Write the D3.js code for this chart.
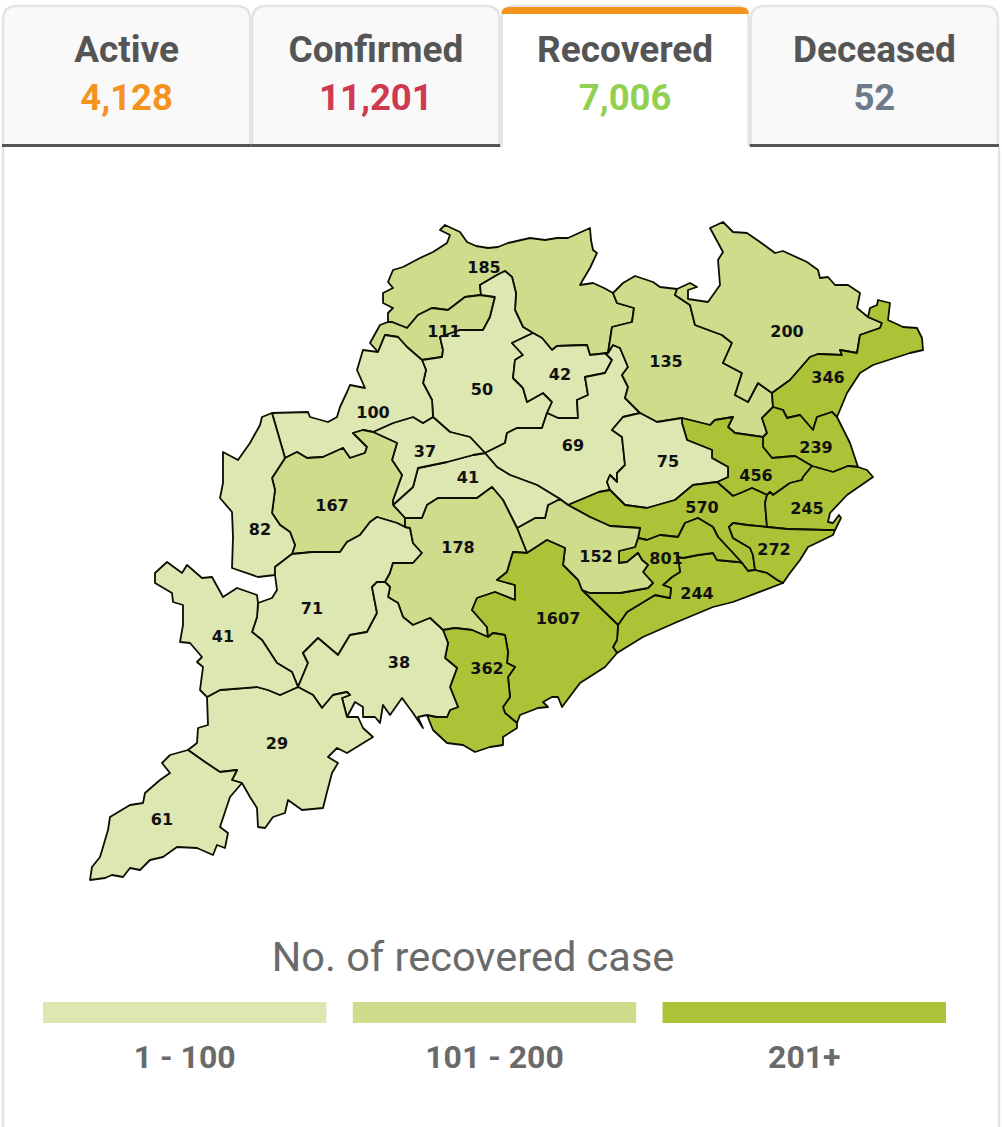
<!DOCTYPE html>
<html><head><meta charset="utf-8">
<style>html,body{margin:0;padding:0;background:#fff}svg{display:block}text{font-family:Roboto,sans-serif}</style>
<script src="https://cdn.jsdelivr.net/npm/d3@7"></script></head><body><svg id="c" width="1002" height="1127"></svg>
<script>
const tabNames=["Active","Confirmed","Recovered","Deceased"];
const tabTotals=["4,128","11,201","7,006","52"];
const tabColors=["#f4931e","#cf3a50","#92d14f","#6c7a89"];
const activeTab="Recovered";
const legendTitle="No. of recovered case";
const legendLabels=["1 - 100","101 - 200","201+"];
const colorBreaks=[101,201];
const colorRange=["#dde7b2","#cedc8b","#adc337"];
const districts=["Sundargarh","Jharsuguda","Sambalpur","Deogarh","Angul","Keonjhar","Mayurbhanj","Balasore","Bhadrak","Jajpur","Dhenkanal","Cuttack","Kendrapara","Jagatsinghpur","Puri","Khordha","Nayagarh","Boudh","Sonepur","Bargarh","Balangir","Nuapada","Kalahandi","Kandhamal","Ganjam","Gajapati","Rayagada","Koraput","Malkangiri","Nabarangpur"];
const recovered=[185,111,50,42,69,135,200,346,239,456,75,570,245,272,244,801,152,41,37,100,167,82,71,178,1607,362,38,29,61,41];
const labelX=[484,444,482,560,573,666,787,828,816,756,668,702,807,774,697,666,596,468,425,373,332,260,312,458,558,487,399,277,162,223];
const labelY=[267,331,389,374,445,361,331,377,447,475,461,507,508,549,593,558,556,477,451,412,505,529,608,547,618,668,662,743,819,636];
// shared district borders, in map units
const arcs={
sunOuter:[[388,322],[388,313],[393,308],[383,303],[383,293],[393,288],[388,282],[393,270],[403,267],[420,258],[433,252],[447,243],[450,235],[440,230],[445,225],[460,232],[467,242],[476,246],[488,248],[498,247],[508,243],[530,238],[545,240],[557,238],[568,238],[590,228],[591,240],[593,250],[597,253],[590,268],[584,278],[580,285],[593,283],[604,288],[613,293]],
sunKeo:[[613,293],[617,303],[634,308],[632,322],[612,327],[608,353]],
sunDeo:[[608,353],[590,355],[587,345],[557,346],[552,350],[542,338],[533,333]],
sunSam:[[533,333],[523,327],[515,310],[516,293],[512,277],[505,271],[497,275],[480,285],[481,295]],
sunJha:[[481,295],[465,297],[448,310],[432,308],[418,315],[407,328],[392,322],[388,322]],
jhaOut:[[388,322],[380,325],[370,343],[378,352]],
jhaBar:[[378,352],[385,335],[398,337],[407,347],[422,360]],
jhaSam:[[422,360],[442,357],[443,350],[440,337],[460,330],[483,330],[490,317],[495,297],[481,295]],
samDeo:[[533,333],[512,343],[523,355],[515,360],[513,378],[523,388],[527,402],[543,393],[552,402],[547,413]],
samAng:[[547,413],[542,428],[517,428],[507,433],[505,443],[485,453]],
samSon:[[485,453],[470,437],[450,432],[433,417]],
samBar:[[433,417],[432,400],[423,383],[426,370],[422,360]],
deoAng:[[608,353],[605,353],[612,360],[605,373],[585,377],[588,395],[577,400],[578,418],[558,418],[547,413]],
angKeo:[[608,353],[613,345],[620,348],[628,367],[622,375],[628,387],[625,398],[640,413]],
angDhe:[[640,413],[623,417],[612,430],[622,437],[625,465],[617,473],[617,482],[610,475],[607,482],[610,490]],
angCut:[[610,490],[599,492],[568,505]],
angNay:[[568,505],[560,499]],
angBou:[[560,499],[537,485],[510,475],[497,467],[485,453]],
keoOuter:[[613,293],[623,283],[635,276],[653,282],[660,287],[677,289]],
keoMay:[[677,289],[675,295],[690,305],[695,325],[722,335],[732,343],[723,363],[742,373],[735,395],[748,402],[758,383],[772,393]],
keoBal:[[772,393],[773,407]],
keoBha:[[773,407],[762,418],[767,433],[763,437]],
keoJaj:[[763,437],[735,433],[728,427],[733,417],[715,420],[710,425],[682,418]],
keoDhe:[[682,418],[657,422],[640,413]],
mayOuter:[[677,289],[690,283],[697,287],[688,290],[688,299],[708,302],[720,285],[718,260],[723,252],[710,228],[723,222],[733,232],[747,233],[760,242],[775,253],[783,251],[807,262],[818,270],[820,278],[828,277],[835,285],[848,285],[860,293],[857,308],[868,317]],
mayBal:[[868,317],[882,323],[880,328],[860,335],[857,353],[840,350],[842,355],[818,354],[810,357],[790,380],[772,393]],
balOuter:[[868,317],[870,308],[877,305],[878,300],[890,303],[888,320],[903,327],[917,328],[922,338],[923,350],[910,353],[873,365],[860,373],[847,393],[837,417]],
balBha:[[837,417],[832,412],[817,417],[813,430],[800,415],[787,418],[783,410],[773,407]],
bhaCoast:[[837,417],[850,443],[858,467]],
bhaKen:[[858,467],[848,466],[833,472],[812,466]],
bhaJaj:[[812,466],[795,456],[772,458],[763,447],[763,437]],
jajKen:[[812,466],[803,477],[802,480],[790,483],[773,495],[770,492],[767,495]],
jajCut:[[767,495],[752,488],[743,492],[733,496],[717,482]],
jajDhe:[[717,482],[728,477],[728,467],[712,458],[712,450],[687,440],[682,423],[682,418]],
dheCut:[[717,482],[693,485],[675,500],[647,508],[625,505],[617,497],[610,490]],
cutKen:[[767,495],[765,503],[767,527]],
cutJag:[[767,527],[747,525],[733,523],[729,527],[733,538],[750,548],[753,555],[755,570]],
cutPur:[[755,570],[748,571],[742,563]],
cutKho:[[742,563],[733,553],[718,537],[713,527],[698,518],[685,523],[678,537],[660,535],[647,540],[638,538]],
cutNay:[[638,538],[640,528],[610,526],[590,517],[568,505]],
kenCoast:[[858,467],[867,470],[873,477],[847,495],[830,513],[828,522],[833,523],[839,515],[841,518],[835,530]],
kenJag:[[835,530],[825,530],[787,529],[767,527]],
jagPur:[[755,570],[767,573],[777,580],[783,583]],
jagCoast:[[783,583],[790,573],[800,560],[808,547],[833,535],[835,530]],
purKho:[[618,625],[627,612],[655,595],[670,598],[671,588],[663,585],[672,577],[680,572],[678,557],[683,558],[698,555],[713,553],[717,560],[738,562],[742,563]],
purCoast:[[783,583],[733,602],[713,607],[677,622],[643,637],[617,653]],
purGan:[[617,653],[613,647],[617,640],[618,625]],
nayKho:[[638,538],[635,547],[619,551],[619,563],[627,562],[638,553],[642,560],[648,565],[643,572],[653,583],[648,588],[620,593],[590,593],[582,590]],
khoGan:[[582,590],[618,625]],
nayGan:[[582,590],[578,580],[563,565],[565,548],[547,540],[527,553]],
nayKan:[[527,553],[517,528]],
nayBou:[[517,528],[535,518],[545,518],[548,505],[560,499]],
bouSon:[[485,453],[473,455],[447,462],[418,468],[413,487],[393,505]],
bouBal:[[393,505],[405,518]],
bouKan:[[405,518],[422,518],[427,505],[438,498],[457,498],[477,498],[492,487],[503,500],[517,528]],
sonBar:[[433,417],[423,423],[413,417],[393,423],[373,432]],
sonBal:[[373,432],[397,443],[392,460],[402,475],[393,500],[393,505]],
barBal:[[373,432],[363,430],[353,433],[357,437],[367,447],[365,453],[350,458],[343,448],[323,457],[307,458],[297,452],[285,458]],
barNua:[[285,458],[272,413]],
barOuter:[[272,413],[308,412],[310,417],[328,422],[337,417],[340,407],[347,392],[350,385],[365,388],[357,370],[363,350],[378,352]],
balKand:[[405,518],[405,527]],
balKal:[[405,527],[397,523],[377,517],[370,522],[360,535],[347,542],[340,552],[313,552],[292,554]],
balNua:[[292,554],[295,545],[290,532],[280,525],[272,513],[275,490],[272,478],[285,458]],
nuaOuter:[[272,413],[262,417],[260,425],[250,443],[238,460],[223,452],[223,483],[220,498],[232,512],[233,537],[232,568],[258,577],[275,575]],
nuaKal:[[275,575],[275,567],[292,554]],
kalOuter:[[275,575],[277,590],[272,598],[258,603]],
kalNab:[[258,603],[257,617],[252,632],[262,640],[277,663],[292,672],[298,687]],
kalRay:[[298,687],[308,663],[303,653],[318,638],[338,655],[350,635],[367,632],[377,613],[372,587],[377,582],[385,582]],
kalKan:[[385,582],[390,573],[393,563],[413,563],[422,553],[413,543],[410,528],[405,527]],
kanGan:[[527,553],[513,552],[507,572],[497,580],[515,585],[515,600],[495,592],[477,598],[472,610],[487,627],[488,637]],
kanGaj:[[488,637],[472,630],[455,628],[443,630]],
kanRay:[[443,630],[430,618],[413,625],[403,617],[398,603],[388,597],[390,587],[385,582]],
ganCoast:[[617,653],[605,667],[580,683],[562,707],[558,697],[552,697],[543,702],[548,707],[538,708],[520,715],[517,723]],
ganGaj:[[517,723],[505,713],[503,707],[510,697],[508,677],[515,667],[507,663],[508,652],[505,635],[493,633],[488,637]],
gajCoast:[[517,723],[517,728],[503,737],[503,745],[490,747],[475,752],[463,745],[447,743],[433,730],[427,715]],
gajRay:[[427,715],[437,717],[447,717],[450,710],[458,707],[450,687],[457,668],[445,658],[448,643],[443,630]],
rayKor:[[298,687],[313,695],[322,708],[333,695],[347,692],[350,695],[342,698],[347,717]],
rayCoast:[[347,717],[355,702],[363,707],[363,717],[375,717],[380,723],[383,705],[390,715],[402,698],[413,713],[423,728],[418,717],[427,715]],
korNab:[[207,697],[220,690],[257,687],[268,690],[280,695],[298,687]],
korOuter:[[347,717],[358,717],[363,728],[373,737],[347,753],[337,748],[328,757],[338,763],[332,773],[327,792],[323,808],[302,810],[288,800],[285,813],[273,817],[265,828],[258,827],[257,808],[250,797],[242,783]],
korMal:[[242,783],[232,780],[237,770],[220,772],[205,762],[188,750]],
korWest:[[188,750],[197,743],[198,728],[208,725],[207,697]],
malOuter:[[242,783],[230,797],[220,827],[228,833],[225,848],[217,845],[213,855],[197,848],[177,847],[163,857],[150,860],[140,870],[130,868],[123,877],[112,875],[105,878],[90,880],[92,867],[100,857],[103,847],[108,830],[110,817],[130,805],[143,803],[145,793],[160,780],[170,773],[162,763],[170,755],[188,750]],
nabOuter:[[207,697],[200,690],[203,667],[197,662],[202,657],[190,643],[180,642],[183,625],[183,605],[173,602],[172,593],[155,583],[155,573],[167,562],[182,573],[187,565],[202,578],[212,577],[223,597],[237,588],[257,595],[258,603]]
};
const rings={
Sundargarh:"sunOuter sunKeo sunDeo sunSam sunJha",
Jharsuguda:"jhaOut jhaBar jhaSam sunJha",
Sambalpur:"jhaSam -sunSam samDeo samAng samSon samBar",
Deogarh:"-sunDeo deoAng -samDeo",
Angul:"-samAng -deoAng angKeo angDhe angCut angNay angBou",
Keonjhar:"keoOuter keoMay keoBal keoBha keoJaj keoDhe -angKeo -sunKeo",
Mayurbhanj:"mayOuter mayBal -keoMay",
Balasore:"balOuter balBha -keoBal -mayBal",
Bhadrak:"-balBha bhaCoast bhaKen bhaJaj -keoBha",
Jajpur:"-keoJaj -bhaJaj jajKen jajCut jajDhe",
Dhenkanal:"-keoDhe -jajDhe dheCut -angDhe",
Cuttack:"-angCut -dheCut -jajCut cutKen cutJag cutPur cutKho cutNay",
Kendrapara:"-bhaKen kenCoast kenJag -cutKen -jajKen",
Jagatsinghpur:"cutJag jagPur jagCoast kenJag",
Puri:"purKho -cutPur jagPur purCoast purGan",
Khordha:"nayKho khoGan purKho cutKho",
Nayagarh:"-cutNay nayKho nayGan nayKan nayBou -angNay",
Boudh:"bouSon bouBal bouKan nayBou angBou",
Sonepur:"samSon sonBar sonBal -bouSon",
Bargarh:"jhaBar -samBar sonBar barBal barNua barOuter",
Balangir:"-barBal sonBal bouBal balKand balKal balNua",
Nuapada:"nuaOuter nuaKal balNua barNua",
Kalahandi:"-nuaKal kalOuter kalNab kalRay kalKan balKal",
Kandhamal:"bouKan -nayKan kanGan kanGaj kanRay kalKan -balKand",
Ganjam:"-nayGan khoGan -purGan ganCoast ganGaj -kanGan",
Gajapati:"-kanGaj -ganGaj gajCoast gajRay",
Rayagada:"-kalRay rayKor rayCoast gajRay kanRay",
Koraput:"korNab rayKor korOuter korMal korWest",
Malkangiri:"-korMal malOuter",
Nabarangpur:"nabOuter kalNab -korNab"
};
const buildRing=s=>{const r=[];s.split(" ").forEach(k=>{const rev=k[0]==="-";const a=arcs[rev?k.slice(1):k];const p=rev?a.slice().reverse():a;p.forEach(c=>{const l=r[r.length-1];if(!l||l[0]!==c[0]||l[1]!==c[1])r.push(c)})});if(r[0][0]!==r[r.length-1][0]||r[0][1]!==r[r.length-1][1])r.push(r[0]);return r};
const svg=d3.select("#c");
// panel
svg.append("path").attr("d","M3 147V1127M999 147V1127").attr("stroke","#e4e4e4").attr("stroke-width",2.5).attr("fill","none");
// tabs
const tabX=d3.scaleBand().domain(tabNames).range([2,999]);
const tabs=svg.selectAll("g.tab").data(tabNames).join("g").attr("class","tab").attr("transform",d=>`translate(${tabX(d)},0)`);
const w=tabX.bandwidth();
tabs.append("path").attr("d",`M1 146V20Q1 6 15 6H${w-15}Q${w-1} 6 ${w-1} 20V146`).attr("fill",d=>d===activeTab?"#fff":"#f9f9f9").attr("stroke","#e4e4e4").attr("stroke-width",2.5);
tabs.filter(d=>d===activeTab).append("path").attr("d",`M1 14V13Q1 7 9 7H${w-9}Q${w-1} 7 ${w-1} 13V14Z`).attr("fill","#f4931e");
tabs.filter(d=>d!==activeTab).append("rect").attr("x",0).attr("y",144).attr("width",w).attr("height",3).attr("fill","#555");
tabs.append("text").attr("x",w/2).attr("y",62).attr("text-anchor","middle").attr("font-size",37).attr("font-weight",700).attr("fill","#555").text(d=>d);
tabs.append("text").attr("x",w/2).attr("y",110).attr("text-anchor","middle").attr("font-size",36.5).attr("font-weight",700).attr("fill",(d,i)=>tabColors[i]).text((d,i)=>tabTotals[i]);
// map
const color=d3.scaleThreshold().domain(colorBreaks).range(colorRange);
const path=d3.geoPath(d3.geoIdentity());
const features=districts.map((n,i)=>({type:"Feature",properties:{name:n,value:recovered[i]},geometry:{type:"Polygon",coordinates:[buildRing(rings[n])]}}));
svg.append("g").selectAll("path").data(features).join("path").attr("d",path).attr("fill",d=>color(d.properties.value)).attr("stroke","#0a0f00").attr("stroke-width",1.8).attr("stroke-linejoin","round");
svg.append("g").selectAll("text").data(recovered).join("text").attr("x",(d,i)=>labelX[i]).attr("y",(d,i)=>labelY[i]).attr("dy","0.36em").attr("text-anchor","middle").style("font-family","'DejaVu Sans'").attr("font-size",16).attr("font-weight",700).attr("fill","#111").text(d=>d);
// legend
svg.append("text").attr("x",473).attr("y",971).attr("text-anchor","middle").attr("font-size",41.5).attr("fill","#6a6a6a").text(legendTitle);
const legX=d3.scaleBand().domain(legendLabels).range([43,946]).paddingInner(0.085);
svg.append("g").selectAll("rect").data(legendLabels).join("rect").attr("x",d=>legX(d)).attr("y",1002).attr("width",legX.bandwidth()).attr("height",21).attr("fill",(d,i)=>colorRange[i]);
svg.append("g").selectAll("text").data(legendLabels).join("text").attr("x",d=>legX(d)+legX.bandwidth()/2).attr("y",1068).attr("text-anchor","middle").attr("font-size",32).attr("font-weight",700).attr("fill","#6a6a6a").text(d=>d);
</script></body></html>
